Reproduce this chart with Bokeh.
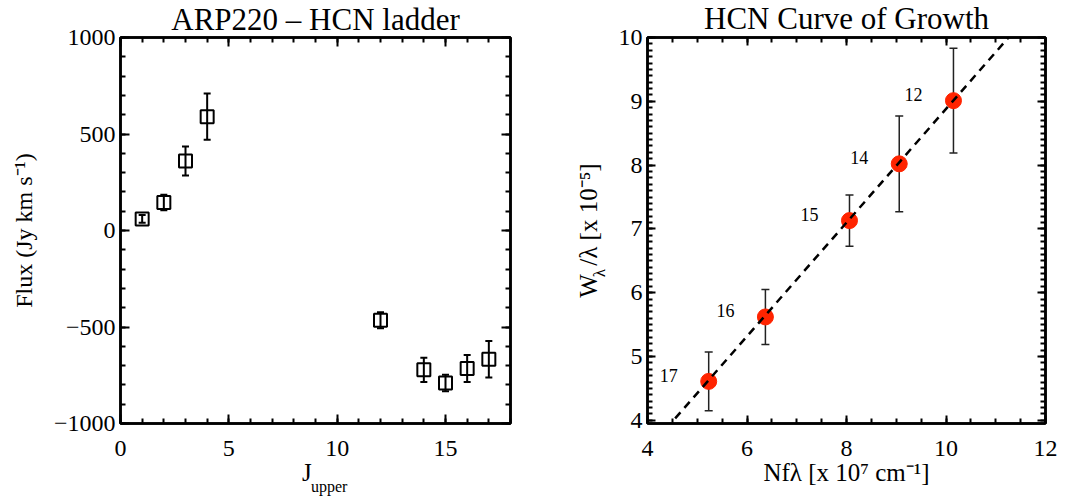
import numpy as np
from bokeh.plotting import figure
from bokeh.layouts import row
from bokeh.models import (ColumnDataSource, Whisker, TeeHead, LinearAxis, Range1d, Title,
                          CustomJSTickFormatter, SingleIntervalTicker, FixedTicker)
from bokeh.core.properties import value
from bokeh.embed import file_html
from bokeh.resources import INLINE

# ---------------- data ----------------
# Left panel: ARP220 HCN ladder
j_upper = [1, 2, 3, 4, 12, 14, 15, 16, 17]
flux = [60, 145, 360, 590, -465, -722, -790, -715, -667]
flux_err = [20, 40, 75, 120, 42, 63, 43, 70, 95]

# Right panel: HCN curve of growth
cog_labels = ["12", "14", "15", "16", "17"]
nf_lambda = [10.15, 9.06, 8.06, 6.37, 5.23]
w_over_lambda = [9.01, 8.02, 7.13, 5.62, 4.61]
w_err = [0.82, 0.75, 0.40, 0.43, 0.46]
fit_slope = 0.891
fit_intercept = -0.03

FONT = "Liberation Serif"
TICK_FS = "24px"
LABEL_FS = "25px"
TITLE_FS = "31px"


def try_set(obj, attr, val, fallback):
    try:
        setattr(obj, attr, val)
    except Exception:
        setattr(obj, attr, fallback)


def blank_axis(p, side, ticker):
    ax = LinearAxis(ticker=ticker, formatter=CustomJSTickFormatter(code="return ''"))
    ax.major_label_text_font_size = "1px"
    ax.major_label_standoff = 0
    p.add_layout(ax, side)
    return ax


def label_only_axis(p, side, text, size, standoff):
    ax = LinearAxis(ticker=FixedTicker(ticks=[]), axis_label=text)
    ax.axis_line_color = None
    ax.major_tick_in = 0
    ax.major_tick_out = 0
    ax.minor_tick_in = 0
    ax.minor_tick_out = 0
    ax.major_label_standoff = 0
    ax.major_label_text_font_size = "1px"
    ax.axis_label_text_font = FONT
    ax.axis_label_text_font_size = size
    ax.axis_label_text_font_style = "normal"
    ax.axis_label_text_color = "black"
    try_set(ax, "axis_label_standoff", standoff, 0)
    p.add_layout(ax, side)
    return ax


def style_axes(p, xint, xminor, yint, yminor, maj=9, mnr=5):
    xa = p.below[0]
    ya = p.left[0]
    xa.ticker = SingleIntervalTicker(interval=xint, num_minor_ticks=xminor)
    ya.ticker = SingleIntervalTicker(interval=yint, num_minor_ticks=yminor)
    top = blank_axis(p, "above", SingleIntervalTicker(interval=xint, num_minor_ticks=xminor))
    right = blank_axis(p, "right", SingleIntervalTicker(interval=yint, num_minor_ticks=yminor))
    for ax in (xa, ya, top, right):
        ax.axis_line_width = 2.5
        ax.axis_line_color = "black"
        ax.major_tick_in = maj
        ax.major_tick_out = 0
        ax.minor_tick_in = mnr
        ax.minor_tick_out = 0
        ax.major_tick_line_width = 2
        ax.minor_tick_line_width = 2
        ax.major_tick_line_color = "black"
        ax.minor_tick_line_color = "black"
        ax.major_label_text_font = FONT
        ax.major_label_text_color = "black"
    for ax in (xa, ya):
        ax.major_label_text_font_size = TICK_FS
        ax.axis_label_text_font = FONT
        ax.axis_label_text_font_size = LABEL_FS
        ax.axis_label_text_font_style = "normal"
        ax.axis_label_text_color = "black"
    xa.major_label_standoff = 17
    ya.major_label_standoff = 5
    p.xgrid.visible = False
    p.ygrid.visible = False
    p.outline_line_color = "black"
    p.outline_line_width = 2.5
    p.background_fill_color = "white"
    p.border_fill_color = "white"
    return xa, ya


def set_title(p, text, standoff):
    t = Title(text=text, align="center", vertical_align="top", text_font=FONT,
              text_font_size=TITLE_FS, text_font_style="normal", text_color="black")
    try_set(t, "standoff", standoff, 0)
    p.title = t


# ---------------- left panel ----------------
p1 = figure(width=543, height=497, x_range=Range1d(0, 18), y_range=Range1d(-1000, 1000),
            output_backend="svg", toolbar_location=None,
            min_border_left=120, min_border_right=33, min_border_top=35, min_border_bottom=74)
xa1, ya1 = style_axes(p1, 5, 5, 500, 5)
ya1.major_label_overrides = {-1000: "\u22121000", -500: "\u2212500"}
set_title(p1, "ARP220 \u2013 HCN ladder", -3)

xa1.axis_label = "J\u2002\u2009"
xa1.axis_label_standoff = 0
label_only_axis(p1, "below", "\u2003\u2002\u2009upper", "16px", -11)
ya1.axis_label = "Flux (Jy km s\u207b\u00b9)"
ya1.axis_label_text_font_size = "24px"
ya1.axis_label_standoff = 14

src1 = ColumnDataSource(dict(
    j=j_upper, f=flux,
    lo=[f - e for f, e in zip(flux, flux_err)],
    hi=[f + e for f, e in zip(flux, flux_err)]))
p1.add_layout(Whisker(base="j", lower="lo", upper="hi", source=src1, dimension="height",
                      line_color="black", line_width=2,
                      lower_head=TeeHead(size=7, line_width=2, line_color="black"),
                      upper_head=TeeHead(size=7, line_width=2, line_color="black")))
p1.scatter("j", "f", source=src1, marker="square", size=13, fill_color=None,
           line_color="black", line_width=2)

# ---------------- right panel ----------------
p2 = figure(width=528, height=497, x_range=Range1d(4, 12), y_range=Range1d(3.95, 10.0),
            output_backend="svg", toolbar_location=None,
            min_border_left=104, min_border_right=26, min_border_top=37, min_border_bottom=74)
xa2, ya2 = style_axes(p2, 2, 4, 1, 10, maj=8, mnr=5)
set_title(p2, "HCN Curve of Growth", 0)

xa2.axis_label = "Nf\u03bb [x 10\u2077 cm\u207b\u00b9]"
xa2.axis_label_standoff = 0
ya2.axis_label = "W\u00a0\u200a/\u03bb [x 10\u207b\u2075]"
ya2.axis_label_standoff = 14
label_only_axis(p2, "left", "\u03bb" + "\u2003" * 5, "17px", -37)

src2 = ColumnDataSource(dict(
    x=nf_lambda, y=w_over_lambda, t=cog_labels,
    lo=[w - e for w, e in zip(w_over_lambda, w_err)],
    hi=[w + e for w, e in zip(w_over_lambda, w_err)]))
p2.add_layout(Whisker(base="x", lower="lo", upper="hi", source=src2, dimension="height",
                      line_color="#222222", line_width=1.5,
                      lower_head=TeeHead(size=8, line_width=1.5, line_color="#222222"),
                      upper_head=TeeHead(size=8, line_width=1.5, line_color="#222222")))
p2.scatter("x", "y", source=src2, marker="circle", size=16, fill_color="#ff2400",
           line_color="#ff2400")
fit_x = np.array([p2.x_range.start, p2.x_range.end])
p2.line(fit_x, fit_slope * fit_x + fit_intercept, line_color="black", line_width=2.5,
        line_dash="8 6")
p2.text("x", "y", text="t", source=src2, x_offset=-40, y_offset=-6,
        text_font=value(FONT), text_font_size="18px", text_color="black",
        text_align="center", text_baseline="middle")

layout = row(p1, p2)
open("out.html", "w").write(file_html(layout, INLINE))
